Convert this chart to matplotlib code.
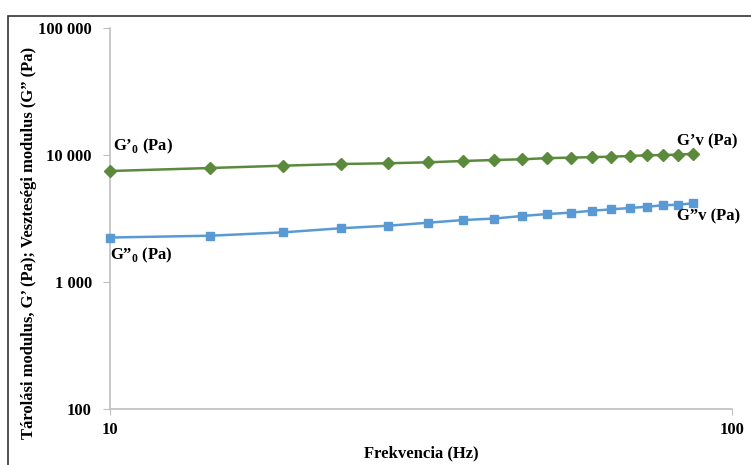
import matplotlib.pyplot as plt
from matplotlib.ticker import FixedLocator, FuncFormatter, NullLocator
from matplotlib.patches import Rectangle

plt.rcParams['font.family'] = ['Liberation Serif', 'DejaVu Serif']
plt.rcParams['font.weight'] = 'bold'
plt.rcParams['mathtext.fontset'] = 'custom'
plt.rcParams['mathtext.rm'] = 'Liberation Serif:bold'
plt.rcParams['mathtext.bf'] = 'Liberation Serif:bold'

# frequency (Hz)
freq = [10, 14.5, 19, 23.5, 28, 32.5, 37, 41.5, 46, 50.5, 55, 59.5, 64, 68.5,
        73, 77.5, 82, 86.5]
# storage modulus G' (Pa)
g_storage = [7480, 7900, 8240, 8490, 8610, 8760, 8970, 9140, 9250, 9450,
             9530, 9620, 9700, 9820, 9945, 10000, 10060, 10230]
# loss modulus G'' (Pa)
g_loss = [2240, 2315, 2460, 2650, 2775, 2930, 3077, 3160, 3310, 3430,
          3515, 3640, 3735, 3825, 3915, 4020, 4060, 4165]

y_ticks = [100, 1000, 10000, 100000]
x_ticks = [10, 100]

green = '#5B8A3C'
blue = '#5A9AD4'
grey = '#BFBFBF'

fig = plt.figure(figsize=(7.51, 4.65), dpi=100)
# outer chart frame (only its top and left edges fall inside the picture)
fig.patches.append(Rectangle((8 / 751, -0.5), 2, 1.5 - 16 / 465,
                             transform=fig.transFigure, fill=False,
                             edgecolor='#333333', linewidth=1.2))
ax = fig.add_axes([110 / 751, 1 - 409 / 465, 622 / 751, 381 / 465])

ax.plot(freq, g_storage, color=green, marker='D', markersize=6,
        linewidth=1.8, clip_on=False, zorder=3)
ax.plot(freq, g_loss, color=blue, marker='s', markersize=6,
        linewidth=1.8, clip_on=False, zorder=3)

ax.set_xscale('log')
ax.set_yscale('log')
ax.set_xlim(10, 100)
ax.set_ylim(100, 100000)

ax.xaxis.set_major_locator(FixedLocator(x_ticks))
ax.xaxis.set_minor_locator(NullLocator())
ax.yaxis.set_major_locator(FixedLocator(y_ticks))
ax.yaxis.set_minor_locator(NullLocator())
ax.yaxis.set_major_formatter(FuncFormatter(lambda v, p: f'{int(v):,}'.replace(',', ' ')))
ax.xaxis.set_major_formatter(FuncFormatter(lambda v, p: f'{int(v)}'))

for s in ['top', 'right']:
    ax.spines[s].set_visible(False)
for s in ['left', 'bottom']:
    ax.spines[s].set_color(grey)
    ax.spines[s].set_linewidth(1.2)
ax.tick_params(axis='y', direction='out', length=5, color=grey,
               labelsize=12, pad=8)
ax.tick_params(axis='x', direction='out', length=4, color=grey,
               labelsize=12, pad=5)
for lab in ax.get_xticklabels() + ax.get_yticklabels():
    lab.set_fontweight('bold')

ax.set_xlabel('Frekvencia (Hz)', fontsize=12, fontweight='bold', labelpad=6)
ax.set_ylabel('Tárolási modulus, G\u2019 (Pa); Veszteségi modulus (G\u201d (Pa)',
              fontsize=12, fontweight='bold')
ax.yaxis.set_label_coords(-0.117, 0.436)

ax.text(10.1, 11600, 'G\u2019$_0$ (Pa)', fontsize=12, fontweight='bold',
        ha='left', va='center')
ax.text(10.0, 1620, 'G\u201d$_0$ (Pa)', fontsize=12, fontweight='bold',
        ha='left', va='center')
ax.text(102, 12900, 'G\u2019v (Pa)', fontsize=12, fontweight='bold',
        ha='right', va='center')
ax.text(103, 3300, 'G\u201dv (Pa)', fontsize=12, fontweight='bold',
        ha='right', va='center')

fig.savefig('out.png', dpi=100)
